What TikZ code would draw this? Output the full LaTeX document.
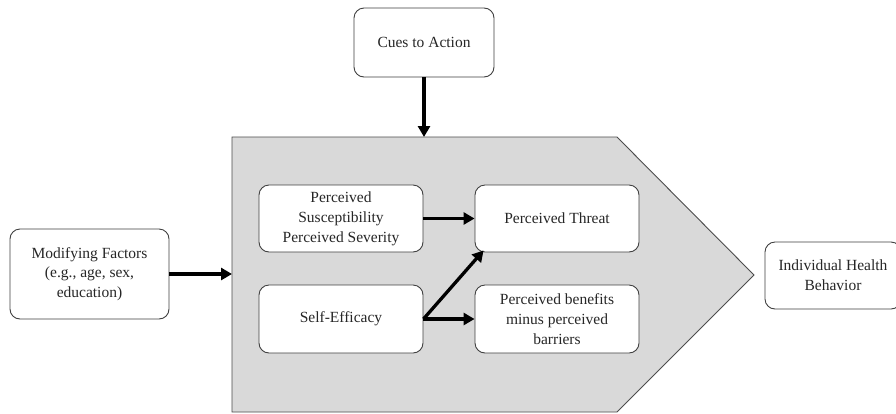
\documentclass[tikz,border=0pt]{standalone}
\usepackage{fontspec}
\setmainfont{Liberation Serif}
\usetikzlibrary{arrows.meta,calc}
\begin{document}
\begin{tikzpicture}[x=1pt,y=-1pt,
  box/.style={draw=black!75, line width=0.9pt, rounded corners=10pt, fill=white,
    align=center, text=black!85, font=\fontsize{15.5}{19.8}\selectfont, inner sep=0pt},
  arr/.style={line width=3.3pt, -{Triangle[length=11pt,width=12pt]}},
]
\useasboundingbox (0,0) rectangle (896,413);
\fill[white] (0,0) rectangle (896,413);
\draw[fill=black!15, draw=black!70, line width=0.9pt]
  (232,137) -- (617,137) -- (754,275) -- (617,412) -- (232,412) -- cycle;
\coordinate (hbtop) at (424,137);
\coordinate (hbleft) at (232,274);

\node[box, minimum width=140pt, minimum height=69pt] (cues) at (424,42.5) {Cues to Action};
\node[box, minimum width=159pt, minimum height=90pt] (mod) at (89.5,274) {Modifying Factors\\(e.g., age, sex,\\education)};
\node[box, minimum width=164pt, minimum height=67pt] (ps) at (341,218.5) {Perceived\\Susceptibility\\Perceived Severity};
\node[box, minimum width=164pt, minimum height=67pt] (pt) at (557,218.5) {Perceived Threat};
\node[box, minimum width=164pt, minimum height=68pt] (se) at (341,319) {Self-Efficacy};
\node[box, minimum width=164pt, minimum height=68pt] (pb) at (557,319) {Perceived benefits\\minus perceived\\barriers};
\node[box, minimum width=136pt, minimum height=67pt] (ihb) at (833,275.5) {Individual Health\\Behavior};

\draw[arr] (cues.south) -- (hbtop);
\draw[arr] (mod.east) -- (hbleft);
\draw[arr] (ps.east) -- (pt.west |- ps.east);
\draw[arr] (se.east) -- (pb.west |- se.east);
\draw[arr] (se.east) -- ($(pt.south west)+(9,-2)$);
\end{tikzpicture}
\end{document}
